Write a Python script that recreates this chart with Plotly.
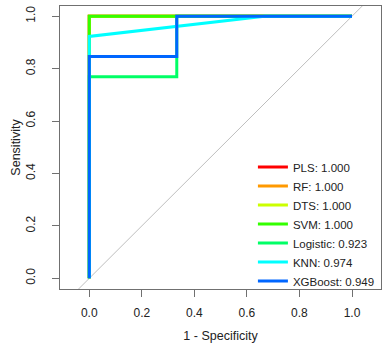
import plotly.graph_objects as go

# ROC curves (x = 1 - Specificity, y = Sensitivity)
models = ["PLS", "RF", "DTS", "SVM", "Logistic", "KNN", "XGBoost"]
auc = [1.000, 1.000, 1.000, 1.000, 0.923, 0.974, 0.949]
colors = ["#FF0000", "#FF9900", "#CCFF00", "#33FF00", "#00FF66", "#00FFFF", "#0066FF"]

fpr_pls = [0, 0, 1]
tpr_pls = [0, 1, 1]
fpr_rf = [0, 0, 1]
tpr_rf = [0, 1, 1]
fpr_dts = [0, 0, 1]
tpr_dts = [0, 1, 1]
fpr_svm = [0, 0, 1]
tpr_svm = [0, 1, 1]
fpr_log = [0, 0, 0.333, 0.333, 1]
tpr_log = [0, 0.769, 0.769, 1, 1]
fpr_knn = [0, 0, 0.667, 1]
tpr_knn = [0, 0.923, 1, 1]
fpr_xgb = [0, 0, 0.333, 0.333, 1]
tpr_xgb = [0, 0.846, 0.846, 1, 1]

fprs = [fpr_pls, fpr_rf, fpr_dts, fpr_svm, fpr_log, fpr_knn, fpr_xgb]
tprs = [tpr_pls, tpr_rf, tpr_dts, tpr_svm, tpr_log, tpr_knn, tpr_xgb]

diag = [-0.5, 1.5]
tick_vals = [0.0, 0.2, 0.4, 0.6, 0.8, 1.0]
tick_text = ["0.0", "0.2", "0.4", "0.6", "0.8", "1.0"]

fig = go.Figure()
fig.add_trace(go.Scatter(x=diag, y=diag, mode="lines",
                         line=dict(color="#BEBEBE", width=1),
                         showlegend=False, hoverinfo="skip"))
for m, a, c, fx, ty in zip(models, auc, colors, fprs, tprs):
    fig.add_trace(go.Scatter(x=fx, y=ty, mode="lines",
                             name=f"{m}: {a:.3f}",
                             line=dict(color=c, width=3)))

axis_common = dict(
    showgrid=False, zeroline=False,
    showline=True, linecolor="#707070", linewidth=1, mirror=True,
    ticks="outside", ticklen=7, tickcolor="#707070", tickwidth=1,
    tickvals=tick_vals, ticktext=tick_text,
    tickfont=dict(size=12, color="#222222"),
)

fig.update_layout(
    width=383, height=346,
    margin=dict(l=60, r=2, t=6, b=57),
    paper_bgcolor="white", plot_bgcolor="white",
    font=dict(family="Liberation Sans, Arial, sans-serif", color="#222222"),
    xaxis=dict(range=[-0.1115, 1.1104], ticklabelstandoff=6,
               title=dict(text="1 - Specificity", font=dict(size=12.5), standoff=11),
               **axis_common),
    yaxis=dict(range=[-0.0408, 1.039], tickangle=-90, ticklabelstandoff=12,
               title=dict(text="Sensitivity", font=dict(size=12.5), standoff=0),
               **axis_common),
    legend=dict(x=0.601, y=0.482, xanchor="left", yanchor="top",
                bgcolor="rgba(0,0,0,0)", borderwidth=0,
                font=dict(size=11.5, color="#222222"),
                tracegroupgap=0, traceorder="normal"),
)

fig.write_html("out.html")
